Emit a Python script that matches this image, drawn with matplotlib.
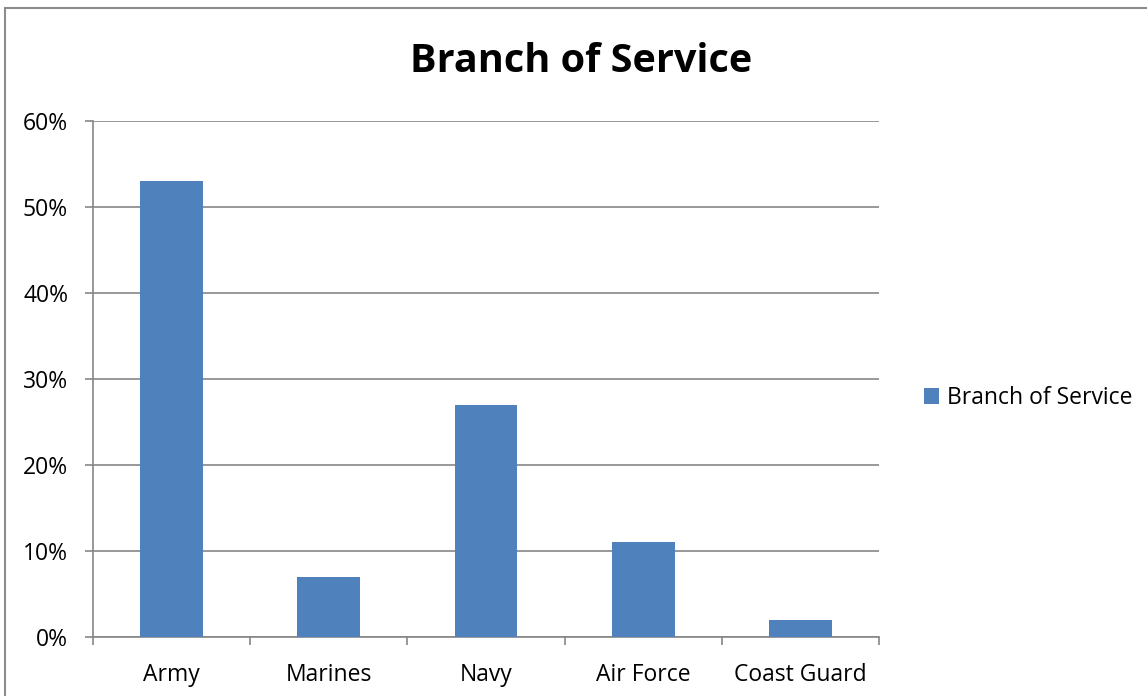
import matplotlib.pyplot as plt
from matplotlib.patches import Rectangle
from matplotlib.ticker import FixedLocator, PercentFormatter

# Данные по родам войск
branches = ['Army', 'Marines', 'Navy', 'Air Force', 'Coast Guard']
shares = [53, 7, 27, 11, 2]
series_name = 'Branch of Service'

plt.rcParams['font.family'] = ['Open Sans', 'DejaVu Sans']

W, H = 1147, 696
fig = plt.figure(figsize=(W / 100, H / 100), dpi=100)
fig.patch.set_facecolor('white')

# рамка вокруг диаграммы
fig.patches.append(Rectangle((5 / W, -0.1), 1.2, (H - 8) / H + 0.1,
                             transform=fig.transFigure, fill=False,
                             edgecolor='#8c8c8c', linewidth=1.5))

ax = fig.add_axes([93 / W, (H - 637) / H, 786 / W, 516 / H])
grey = '#868686'

ax.bar(range(len(branches)), shares, width=0.4, color='#4F81BD',
       label=series_name, zorder=3)

ax.set_xlim(-0.5, len(branches) - 0.5)
ax.set_ylim(0, 60)
ax.set_yticks(range(0, 61, 10))
ax.yaxis.set_major_formatter(PercentFormatter(decimals=0))
ax.set_xticks(range(len(branches)))
ax.set_xticklabels(branches)
ax.xaxis.set_minor_locator(FixedLocator([i - 0.5 for i in range(len(branches) + 1)]))

ax.tick_params(axis='x', which='major', length=0, pad=19, labelsize=16.5)
ax.tick_params(axis='x', which='minor', length=6, width=1.2, color=grey)
ax.tick_params(axis='y', length=6, width=1.2, color=grey, pad=12, labelsize=16.5)

ax.grid(axis='y', color=grey, linewidth=1.2, zorder=0)
ax.spines['top'].set_visible(False)
ax.spines['right'].set_visible(False)
ax.spines['left'].set_color(grey)
ax.spines['bottom'].set_color(grey)
ax.spines['left'].set_linewidth(1.2)
ax.spines['bottom'].set_linewidth(1.2)

fig.text(581 / W, 1 - 61 / H, 'Branch of Service', ha='center', va='center',
         fontsize=28.5, fontweight='bold')

ax.legend(loc='center left', bbox_to_anchor=(903 / W, 1 - 398 / H),
          bbox_transform=fig.transFigure, frameon=False, fontsize=16.5,
          handlelength=0.65, handleheight=0.65, handletextpad=0.35)

fig.savefig('out.png', dpi=100)
